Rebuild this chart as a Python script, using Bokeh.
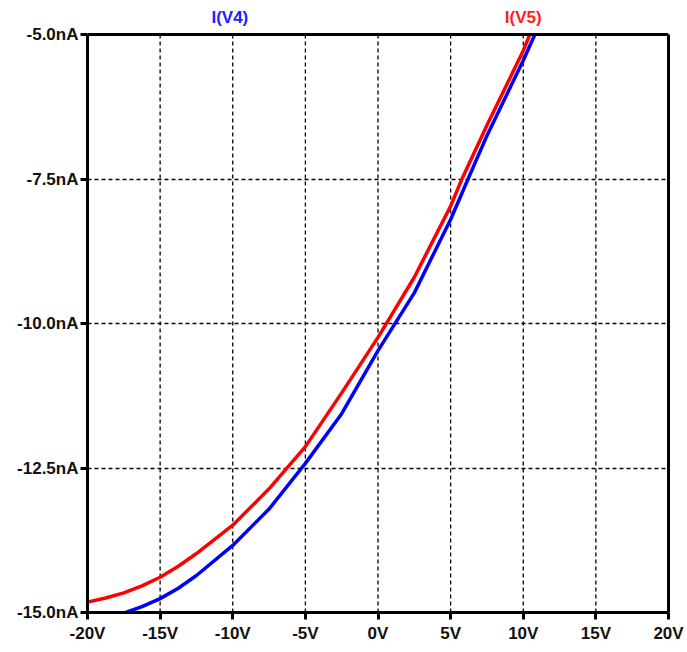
from bokeh.plotting import figure
from bokeh.models import Range1d, PrintfTickFormatter, FixedTicker, LinearAxis, Span, ColumnDataSource
from bokeh.core.properties import value
from bokeh.embed import file_html
from bokeh.resources import INLINE

# Data (V, nA)
v5_volts = [-20, -18.75, -17.5, -16.25, -15, -13.75, -12.5, -10, -7.5, -5, -2.5, 0, 2.5, 5, 5.78, 7.5, 10, 10.45]
v5_current = [-14.82, -14.75, -14.66, -14.54, -14.39, -14.2, -13.98, -13.49, -12.86, -12.13, -11.2, -10.24, -9.2, -7.97, -7.5, -6.57, -5.28, -5.0]

v4_volts = [-17.37, -16.25, -15, -13.75, -12.5, -10, -7.5, -5, -2.5, 0, 2.5, 5, 6.2, 7.5, 10, 10.8]
v4_current = [-15.0, -14.9, -14.76, -14.58, -14.36, -13.84, -13.21, -12.42, -11.56, -10.47, -9.47, -8.2, -7.5, -6.75, -5.45, -5.0]

x_ticks = [-20, -15, -10, -5, 0, 5, 10, 15, 20]
y_ticks = [-15.0, -12.5, -10.0, -7.5, -5.0]

trace_names = ["I(V4)", "I(V5)"]
trace_colors = ["#2020ff", "#ff2020"]
trace_label_x = [-10.2, 10.0]

X0, X1 = -20, 20
Y0, Y1 = -15, -5
FONT = "Liberation Sans"

# frame extended above Y1 so the trace names (top margin) can be drawn
p = figure(width=687, height=652, output_backend="svg", toolbar_location=None,
           x_range=Range1d(X0, X1), y_range=Range1d(Y0, Y1 + 34 / 57.8),
           min_border_left=87, min_border_right=19, min_border_top=0, min_border_bottom=40)
p.background_fill_color = "white"
p.border_fill_color = "white"
p.outline_line_color = None

for ax in (p.xaxis[0], p.yaxis[0]):
    ax.axis_line_width = 3
    ax.axis_line_color = "black"
    ax.major_tick_line_width = 3
    ax.major_tick_line_color = "black"
    ax.major_tick_out = 7
    ax.major_tick_in = 0
    ax.minor_tick_line_color = None
    ax.major_label_text_font = FONT
    ax.major_label_text_font_style = "bold"
    ax.major_label_text_font_size = "17px"
    ax.major_label_text_color = "#111111"

p.xaxis[0].ticker = FixedTicker(ticks=x_ticks)
p.yaxis[0].ticker = FixedTicker(ticks=y_ticks)
p.yaxis[0].bounds = (Y0, Y1)
p.xaxis[0].formatter = PrintfTickFormatter(format="%dV")
p.yaxis[0].formatter = PrintfTickFormatter(format="%.1fnA")
p.xaxis[0].major_label_standoff = 4
p.yaxis[0].major_label_standoff = 2

# right border
right_ax = LinearAxis(ticker=FixedTicker(ticks=[]), bounds=(Y0, Y1),
                      axis_line_width=3, axis_line_color="black",
                      major_tick_line_color=None, minor_tick_line_color=None,
                      major_label_text_font_size="0px")
p.add_layout(right_ax, "right")

# grid
p.xgrid.visible = False
p.ygrid.grid_line_color = "black"
p.ygrid.grid_line_dash = "4 3"
p.ygrid.grid_line_width = 1.3
p.segment(x0=x_ticks, y0=[Y0] * len(x_ticks), x1=x_ticks, y1=[Y1] * len(x_ticks),
          line_color="black", line_dash="4 3", line_width=1.3)

# top border
p.add_layout(Span(location=Y1, dimension="width", line_color="black", line_width=3))

p.line(v4_volts, v4_current, line_color="#0000ff", line_width=3.5)
p.line(v5_volts, v5_current, line_color="#ff0000", line_width=3.5)

src = ColumnDataSource(dict(x=trace_label_x, y=[Y1 + 0.29] * 2, t=trace_names, c=trace_colors))
p.text(x="x", y="y", text="t", text_color="c", source=src,
       text_font=value(FONT), text_font_style="bold", text_font_size="17px",
       text_align="center", text_baseline="middle")

open("out.html", "w").write(file_html(p, INLINE))
